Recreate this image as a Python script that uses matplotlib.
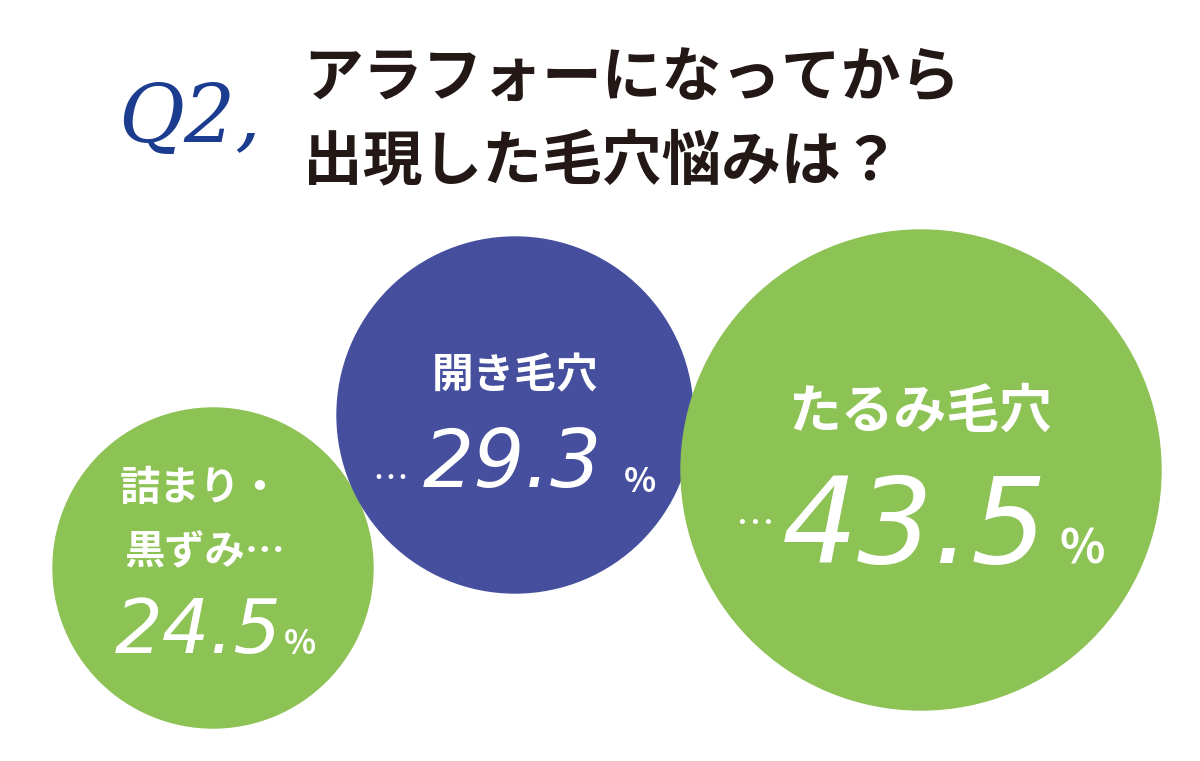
import matplotlib.pyplot as plt
from matplotlib.patches import Circle

labels = ["詰まり・\n黒ずみ…", "開き毛穴\n…", "たるみ毛穴\n…"]
values = [24.5, 29.3, 43.5]
colors = ["#8dc255", "#454f9e", "#8dc255"]
centers_x = [213, 515, 921]
centers_y = [568, 415, 470]
radii = [160, 178, 240]

plt.rcParams["font.family"] = "Noto Sans CJK JP"
fig = plt.figure(figsize=(12, 7.61), dpi=100)
ax = fig.add_axes([0, 0, 1, 1])
ax.set_xlim(0, 1200)
ax.set_ylim(761, 0)
ax.set_aspect("equal")
ax.axis("off")

for i, v in enumerate(values):
    ax.add_patch(Circle((centers_x[i], centers_y[i]), radii[i], color=colors[i], zorder=i + 1))

# text inside bubbles
ax.text(200, 488, "詰まり・", color="white", fontsize=29, fontweight="bold", ha="center", va="center", zorder=5)
ax.text(205, 552, "黒ずみ…", color="white", fontsize=29, fontweight="bold", ha="center", va="center", zorder=5)
ax.text(198, 632, "24.5", color="white", fontsize=54, style="italic", family="DejaVu Sans",
        ha="center", va="center", zorder=5)
ax.text(300, 645, "%", color="white", fontsize=24, fontweight="bold", ha="center", va="center", zorder=5)

ax.text(515, 376, "開き毛穴", color="white", fontsize=30, fontweight="bold", ha="center", va="center", zorder=5)
ax.text(390, 480, "…", color="white", fontsize=26, ha="center", va="center", zorder=5)
ax.text(512, 465, "29.3", color="white", fontsize=58, style="italic", family="DejaVu Sans",
        ha="center", va="center", zorder=5)
ax.text(640, 482, "%", color="white", fontsize=24, fontweight="bold", ha="center", va="center", zorder=5)

ax.text(920, 412, "たるみ毛穴", color="white", fontsize=38, fontweight="bold", ha="center", va="center", zorder=5)
ax.text(755, 525, "…", color="white", fontsize=28, ha="center", va="center", zorder=5)
ax.text(915, 530, "43.5", color="white", fontsize=86, style="italic", family="DejaVu Sans",
        ha="center", va="center", zorder=5)
ax.text(1082, 550, "%", color="white", fontsize=34, fontweight="bold", ha="center", va="center", zorder=5)

# title
ax.text(190, 120, "Q2,", color="#1b3c8f", fontsize=58, family="DejaVu Serif", style="italic",
        ha="center", va="center")
ax.text(303, 80, "アラフォーになってから", color="#231815", fontsize=43, fontweight="bold", ha="left", va="center")
ax.text(303, 162, "出現した毛穴悩みは？", color="#231815", fontsize=43, fontweight="bold", ha="left", va="center")

fig.savefig("out.png", dpi=100)
